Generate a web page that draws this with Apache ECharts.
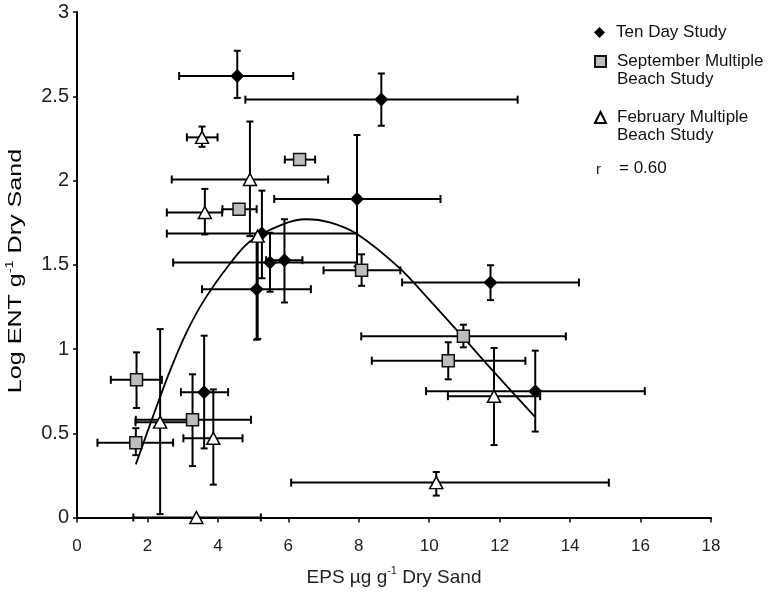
<!DOCTYPE html>
<html>
<head>
<meta charset="utf-8">
<script src="https://cdn.jsdelivr.net/npm/echarts@6/dist/echarts.min.js"></script>
<style>html,body{margin:0;padding:0;background:#fff;}#c{width:780px;height:592px;}</style>
</head>
<body>
<div id="c"></div>
<script>
// Ten Day Study
const tenX   = [4.55, 8.64, 7.95, 5.25, 5.48, 5.89, 5.10, 11.74, 13.01, 3.61];
const tenY   = [2.62, 2.48, 1.89, 1.685, 1.513, 1.527, 1.355, 1.395, 0.75, 0.744];
const tenXLo = [2.90, 4.78, 5.60, 2.55, 2.73, 5.37, 3.55, 9.23, 9.91, 2.95];
const tenXHi = [6.14, 12.51, 10.32, 7.95, 7.95, 6.40, 6.64, 14.25, 16.12, 4.29];
const tenYLo = [2.49, 2.325, 1.49, 1.42, 1.34, 1.276, 1.055, 1.29, 0.51, 0.41];
const tenYHi = [2.77, 2.635, 2.27, 1.94, 1.69, 1.77, 1.65, 1.497, 0.99, 1.079];
// September Multiple Beach Study
const sepX   = [6.32, 4.60, 8.08, 10.97, 10.54, 1.69, 1.67, 3.28];
const sepY   = [2.124, 1.83, 1.467, 1.075, 0.93, 0.817, 0.444, 0.58];
const sepXLo = [5.90, 4.13, 7.00, 8.07, 8.37, 0.96, 0.58, 1.67];
const sepXHi = [6.76, 5.10, 9.18, 13.88, 12.73, 2.41, 2.73, 4.94];
const sepYLo = [2.124, 1.83, 1.375, 1.01, 0.82, 0.65, 0.37, 0.305];
const sepYHi = [2.124, 1.83, 1.562, 1.144, 1.04, 0.98, 0.53, 0.85];
// February Multiple Beach Study
const febX   = [3.55, 4.91, 3.63, 5.13, 2.36, 3.87, 3.39, 10.20, 11.84];
const febY   = [2.256, 2.006, 1.81, 1.67, 0.566, 0.47, 0.0, 0.207, 0.72];
const febXLo = [3.12, 2.69, 2.55, 5.13, 1.66, 3.02, 1.60, 6.08, 10.53];
const febXHi = [3.99, 7.13, 4.12, 5.13, 3.23, 4.70, 5.22, 15.10, 13.15];
const febYLo = [2.20, 1.67, 1.68, 1.06, 0.02, 0.195, 0.0, 0.13, 0.43];
const febYHi = [2.32, 2.35, 1.95, 1.68, 1.118, 0.76, 0.0, 0.27, 1.006];
// fitted curve
const curveX = [1.67, 2.14, 2.62, 3.09, 3.61, 4.32, 4.89, 5.84, 6.50, 7.20, 7.97, 9.16, 10.01, 10.96, 11.81, 12.99];
const curveY = [0.315, 0.59, 0.86, 1.09, 1.29, 1.50, 1.635, 1.74, 1.77, 1.75, 1.68, 1.48, 1.29, 1.07, 0.87, 0.60];

const names = ['Ten Day Study', 'September Multiple Beach Study', 'February Multiple Beach Study'];
const FONT = 'Liberation Sans, Arial, sans-serif';

function pack(x, y, xl, xh, yl, yh) {
  return x.map((v, i) => [v, y[i], xl[i], xh[i], yl[i], yh[i]]);
}
function errItem(params, api) {
  const x = api.value(0), y = api.value(1);
  const xl = api.value(2), xh = api.value(3), yl = api.value(4), yh = api.value(5);
  const pxl = api.coord([xl, y]), pxh = api.coord([xh, y]);
  const pyl = api.coord([x, yl]), pyh = api.coord([x, yh]);
  const st = { stroke: '#000', lineWidth: 2, fill: null };
  const ch = [];
  const capH = 4, capV = 3.5;
  if (xh > xl) {
    ch.push({ type: 'line', shape: { x1: pxl[0], y1: pxl[1], x2: pxh[0], y2: pxh[1] }, style: st });
    ch.push({ type: 'line', shape: { x1: pxl[0], y1: pxl[1] - capH, x2: pxl[0], y2: pxl[1] + capH }, style: st });
    ch.push({ type: 'line', shape: { x1: pxh[0], y1: pxh[1] - capH, x2: pxh[0], y2: pxh[1] + capH }, style: st });
  }
  if (yh > yl) {
    ch.push({ type: 'line', shape: { x1: pyl[0], y1: pyl[1], x2: pyh[0], y2: pyh[1] }, style: st });
    ch.push({ type: 'line', shape: { x1: pyl[0] - capV, y1: pyl[1], x2: pyl[0] + capV, y2: pyl[1] }, style: st });
    ch.push({ type: 'line', shape: { x1: pyh[0] - capV, y1: pyh[1], x2: pyh[0] + capV, y2: pyh[1] }, style: st });
  }
  return { type: 'group', children: ch };
}
function errSeries(data) {
  return { type: 'custom', renderItem: errItem, data: data, encode: { x: 0, y: 1 }, z: 2, clip: false, silent: true };
}

const richTitle = {
  a: { fontSize: 19, fontFamily: FONT, color: '#222', lineHeight: 24 },
  s: { fontSize: 11, fontFamily: FONT, color: '#222', verticalAlign: 'top', lineHeight: 14 }
};

const chart = echarts.init(document.getElementById('c'), null, { renderer: 'canvas' });
const legendBase = { orient: 'vertical', itemWidth: 11, itemHeight: 11, selectedMode: false,
  textStyle: { fontSize: 17, fontFamily: FONT, color: '#111', padding: [0, 0, 0, 6] } };
chart.setOption({
  animation: false,
  backgroundColor: '#fff',
  grid: { left: 77, right: 69, top: 12, bottom: 73 },
  xAxis: {
    type: 'value', min: 0, max: 18, interval: 2,
    name: '{a|EPS µg g}{s|-1}{a| Dry Sand}', nameLocation: 'middle', nameGap: 48,
    nameTextStyle: { rich: richTitle },
    axisLine: { lineStyle: { color: '#000', width: 2 } },
    axisTick: { show: true, length: 5, lineStyle: { color: '#000', width: 1.5 } },
    axisLabel: { fontSize: 17, fontFamily: FONT, color: '#222', margin: 20 },
    splitLine: { show: false }
  },
  yAxis: {
    type: 'value', min: 0, max: 3, interval: 0.5,
    axisLine: { show: true, lineStyle: { color: '#000', width: 2 } },
    axisTick: { show: true, length: 4, lineStyle: { color: '#000', width: 1.5 } },
    axisLabel: { fontSize: 20, fontFamily: FONT, color: '#222', margin: 8 },
    splitLine: { show: false }
  },
  legend: [
    Object.assign({}, legendBase, { data: [names[0]], left: 589, top: 19 }),
    Object.assign({}, legendBase, { data: [names[1]], left: 589, top: 48, formatter: () => 'September Multiple' }),
    Object.assign({}, legendBase, { data: [names[2]], left: 589, top: 104, formatter: () => 'February Multiple' })
  ],
  graphic: [
    { type: 'text', x: 16, y: 271, rotation: Math.PI / 2, scaleX: 1.32, silent: true,
      style: { text: '{a|Log ENT g}{s|-1}{a| Dry Sand}', rich: richTitle, align: 'center', verticalAlign: 'middle' } },
    { type: 'text', left: 617, top: 71, style: { text: 'Beach Study', fontSize: 17, fontFamily: FONT, fill: '#111' } },
    { type: 'text', left: 617, top: 127, style: { text: 'Beach Study', fontSize: 17, fontFamily: FONT, fill: '#111' } },
    { type: 'text', left: 596, top: 162, style: { text: 'r', fontSize: 15, fontFamily: FONT, fill: '#111' } },
    { type: 'text', left: 619, top: 160, style: { text: '= 0.60', fontSize: 17, fontFamily: FONT, fill: '#111' } }
  ],
  series: [
    errSeries(pack(tenX, tenY, tenXLo, tenXHi, tenYLo, tenYHi)),
    errSeries(pack(sepX, sepY, sepXLo, sepXHi, sepYLo, sepYHi)),
    errSeries(pack(febX, febY, febXLo, febXHi, febYLo, febYHi)),
    { type: 'line', data: curveX.map((x, i) => [x, curveY[i]]), smooth: 0.3, showSymbol: false, symbol: 'none',
      lineStyle: { color: '#000', width: 1.8 }, z: 3, silent: true },
    { name: names[0], type: 'scatter', symbol: 'diamond', symbolSize: 14, clip: false, z: 5,
      itemStyle: { color: '#000', borderColor: '#000', borderWidth: 0, opacity: 1 },
      data: tenX.map((x, i) => [x, tenY[i]]) },
    { name: names[1], type: 'scatter', symbol: 'rect', symbolSize: 12, clip: false, z: 5,
      itemStyle: { color: '#bdbdbd', borderColor: '#111', borderWidth: 1.5, opacity: 1 },
      data: sepX.map((x, i) => [x, sepY[i]]) },
    { name: names[2], type: 'scatter', symbol: 'triangle', symbolSize: [13, 12], clip: false, z: 5,
      itemStyle: { color: '#fff', borderColor: '#000', borderWidth: 1.5, opacity: 1 },
      data: febX.map((x, i) => [x, febY[i]]) }
  ]
});
</script>
</body>
</html>
